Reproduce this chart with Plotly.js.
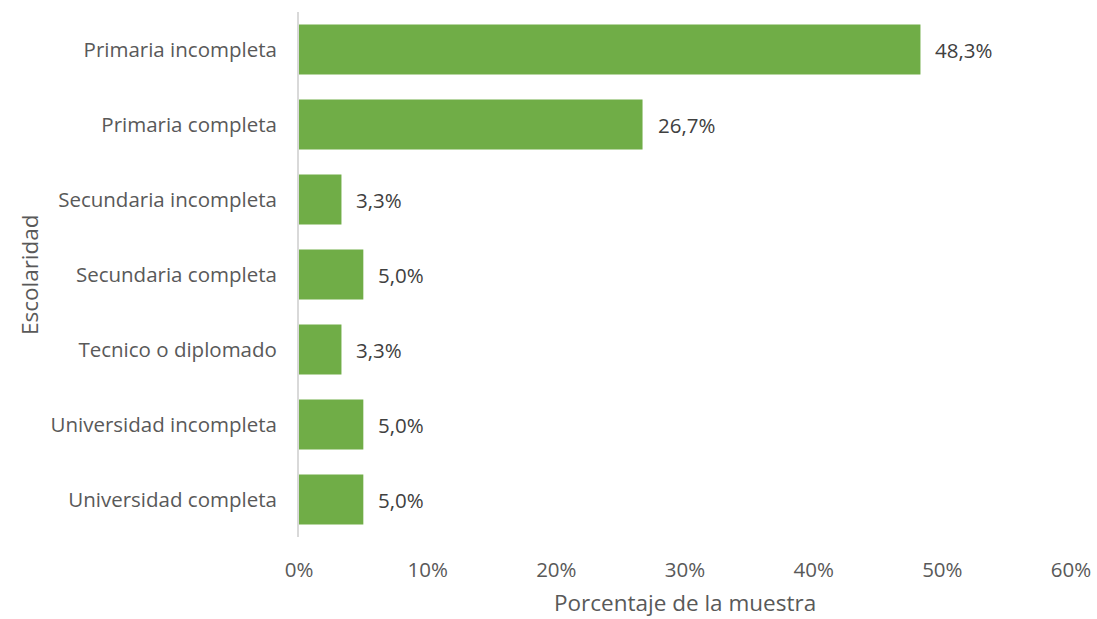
<!DOCTYPE html>
<html><head><meta charset="utf-8">
<script src="https://cdn.plot.ly/plotly-3.0.1.min.js"></script>
<style>html,body{margin:0;padding:0;background:#fff}</style>
</head><body>
<div id="chart" style="width:1097px;height:619px"></div>
<script>
var categories = ["Primaria incompleta","Primaria completa","Secundaria incompleta","Secundaria completa","Tecnico o diplomado","Universidad incompleta","Universidad completa"];
var values = [48.3, 26.7, 3.3, 5.0, 3.3, 5.0, 5.0];
var xTickVals = [0,10,20,30,40,50,60];
var xTickText = ["0%","10%","20%","30%","40%","50%","60%"];

var font = "Open Sans, sans-serif";
var labels = values.map(function(v){ return v.toFixed(1).replace('.', ',') + '%'; });

var trace = {
  type: 'bar', orientation: 'h',
  x: values, y: categories,
  marker: {color: '#70AD47'},
  hoverinfo: 'none'
};
var annotations = values.map(function(v,i){
  return {x: v, y: categories[i], xref:'x', yref:'y', text: labels[i], showarrow:false,
    xanchor:'left', xshift: 13, font:{family:font, size:20.5, color:'#404040'}};
});
annotations.push({text:'Escolaridad', xref:'paper', yref:'paper', x:-0.349, y:0.5, textangle:-90,
  showarrow:false, xanchor:'center', yanchor:'middle', borderpad:0, font:{family:font,size:22.5,color:'#595959'}});
annotations.push({text:'Porcentaje de la muestra', xref:'paper', yref:'paper', x:0.5, y:-0.1257,
  showarrow:false, xanchor:'center', yanchor:'middle', borderpad:0, font:{family:font,size:22.5,color:'#595959'}});

var layout = {
  width:1097, height:619,
  margin:{l:299, r:26, t:12, b:82, pad:0},
  paper_bgcolor:'#fff', plot_bgcolor:'#fff',
  bargap: 0.333,
  showlegend:false,
  xaxis:{range:[0,60], tickvals:xTickVals, ticktext:xTickText, showgrid:false, zeroline:false,
    showline:false, ticks:'', ticklabelstandoff: 18,
    tickfont:{family:font,size:20.5,color:'#595959'}, automargin:false, fixedrange:true},
  yaxis:{autorange:'reversed', showgrid:false, zeroline:false, showline:true, linecolor:'#d9d9d9', linewidth:2,
    ticks:'', ticklabelstandoff: 16, tickfont:{family:font,size:20.5,color:'#595959'}, automargin:false, fixedrange:true},
  annotations: annotations
};
Plotly.newPlot('chart',[trace],layout,{displayModeBar:false, staticPlot:true});
</script>
</body></html>
